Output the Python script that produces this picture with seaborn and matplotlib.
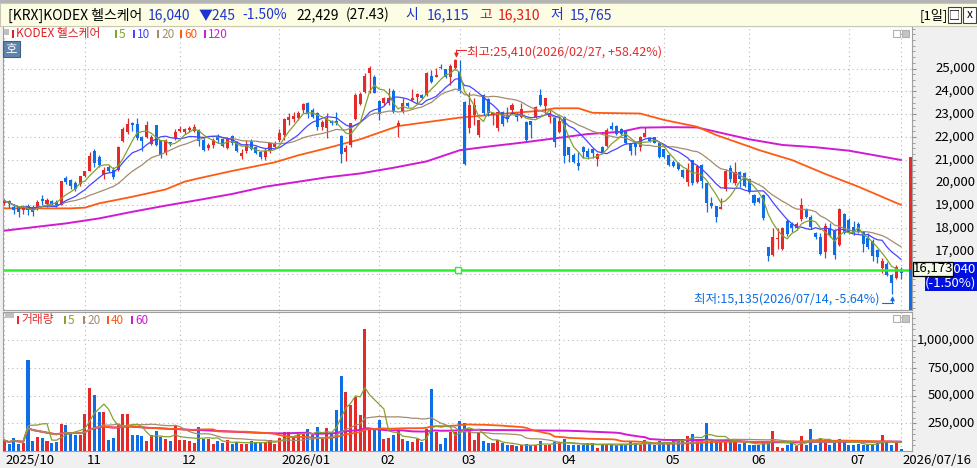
import numpy as np
import pandas as pd
import matplotlib
matplotlib.use("Agg")
import matplotlib.pyplot as plt
import matplotlib.transforms as mtransforms
from matplotlib.patches import Rectangle
import seaborn as sns

# ---------------- data ----------------
month_idx = [0, 17, 37, 58, 79, 96, 117, 139, 157, 178, 189]
month_lbl = ["2025/10", "11", "12", "2026/01", "02", "03", "04", "05", "06", "07", "2026/07/16"]

opens = [19090, 19190, 18930, 18930, 18780, 18990, 18930, 18850, 19290, 19070,
         19190, 19150, 19030, 20210, 20120, 19975, 19920, 20310, 20530, 21390,
         21140, 20350, 20670, 20560, 20560, 21830, 22200, 22600, 22550, 22000,
         21990, 21690, 22520, 21850, 21300, 21760, 21940, 22280, 22230, 22300,
         22280, 22260, 21850, 21520, 21650, 22020, 21900, 21500, 22044, 21796,
         21167, 21401, 21839, 21547, 21342, 21108, 21401, 21576, 21869, 22088,
         22746, 22775, 22820, 23184, 23506, 23184, 23038, 22424, 22380, 22717,
         22717, 22044, 21342, 21649, 22790, 23448, 23988, 24793, 24617, 23579,
         23506, 23506, 24018, 22483, 23111, 23477, 23623, 23769, 23842, 23842,
         24676, 24646, 25085, 24968, 24617, 25012, 24850, 23550, 22380, 22960,
         22090, 23840, 23650, 22960, 22380, 23110, 22960, 23180, 22970, 22860,
         22660, 22720, 22860, 23840, 23360, 22860, 22850, 22230, 22860, 21550,
         21210, 20840, 21550, 21400, 21460, 21020, 21550, 21600, 22480, 22480,
         22340, 22280, 21720, 21720, 21550, 21990, 21940, 21990, 21720, 21460,
         21210, 20920, 20880, 20550, 20040, 20990, 20040, 20770, 20000, 19090,
         18980, 18860, 19705, 20620, 19970, 20480, 20440, 20140, 19460, 19340,
         19460, 17160, 16830, 17510, 17070, 18330, 18185, 17990, 18390, 18830,
         18510, 17780, 17600, 16970, 17990, 17920, 17260, 18620, 18360, 18070,
         18185, 17850, 17560, 17450, 17040, 16240, 16430, 15960, 15800, 16115]

highs = [19290, 19250, 19040, 18990, 19000, 19040, 19000, 19220, 19440, 19330,
         19250, 19220, 20090, 20270, 20160, 20060, 20310, 20530, 21360, 21460,
         21200, 20670, 20790, 20670, 21600, 22450, 22840, 22650, 22840, 22060,
         22700, 22090, 22520, 21880, 21920, 21800, 22330, 22490, 22400, 22500,
         22580, 22330, 21940, 21720, 21950, 22130, 21940, 21990, 22088, 21830,
         21459, 21869, 21900, 21600, 21380, 21500, 21750, 21840, 22337, 22820,
         23038, 23111, 23150, 23480, 23550, 23250, 23110, 22750, 23067, 22750,
         23111, 22088, 21649, 22630, 23915, 23990, 24790, 25114, 24720, 23620,
         23770, 24135, 24090, 22746, 23700, 23550, 24091, 23915, 23900, 24850,
         24939, 25012, 25202, 25000, 25202, 25410, 25380, 23600, 23990, 23700,
         22750, 23900, 23700, 23100, 23140, 23150, 23330, 23480, 23070, 23480,
         22700, 22720, 23360, 24100, 23720, 23180, 22920, 22890, 22920, 21550,
         21280, 21360, 21610, 21500, 21500, 21280, 21610, 22380, 22670, 22520,
         22380, 22310, 21750, 21750, 22040, 22450, 22010, 22010, 21750, 21480,
         21240, 20990, 20910, 20580, 20840, 21000, 20770, 20820, 20000, 19380,
         18980, 19310, 20580, 20770, 20920, 20520, 20480, 20190, 19500, 19380,
         19500, 17190, 17990, 17990, 18040, 18390, 18290, 18290, 19310, 18870,
         18580, 17850, 17780, 18240, 18240, 17950, 18870, 18680, 18430, 18330,
         18290, 17880, 17780, 17510, 17070, 16680, 16500, 16000, 16400, 16310]

lows = [19000, 18900, 18640, 18490, 18640, 18560, 18520, 18780, 19000, 18930,
        19000, 18930, 19000, 19950, 19730, 19650, 19870, 20240, 20490, 20700,
        20680, 20160, 20460, 20160, 20490, 21800, 22120, 22250, 21850, 21400,
        21960, 21630, 21600, 21090, 21230, 21600, 21880, 22200, 22140, 22200,
        22200, 21620, 21380, 21420, 21520, 21740, 21580, 21460, 21649, 21360,
        21020, 21284, 21430, 21250, 21020, 20990, 21310, 21460, 21796, 21870,
        22527, 22673, 22750, 23040, 22820, 22820, 22310, 22310, 21942, 22530,
        22527, 20874, 20962, 21550, 22750, 23410, 23920, 23915, 23920, 22746,
        23400, 23400, 23040, 22015, 23040, 23300, 23580, 23477, 23650, 23800,
        24354, 24620, 24968, 24600, 24281, 24950, 23950, 20750, 22190, 22530,
        21990, 22960, 22900, 22530, 22250, 22500, 22670, 23040, 22720, 22820,
        21840, 21940, 22820, 23360, 22990, 22600, 21580, 22160, 20840, 20920,
        20850, 20550, 21070, 21020, 21070, 20730, 21250, 21580, 22310, 22090,
        22090, 21690, 21210, 21210, 21400, 21990, 21800, 21720, 21060, 21060,
        20730, 20700, 20550, 20190, 19850, 19900, 19990, 19750, 18730, 18870,
        18290, 18830, 19640, 20040, 19900, 19820, 19820, 19560, 19020, 19100,
        18360, 16580, 16780, 17070, 17040, 17660, 17850, 17920, 18330, 18430,
        17970, 17510, 16830, 16680, 17630, 16640, 17220, 17740, 17780, 17700,
        17780, 16970, 17070, 16580, 16460, 16020, 15900, 15135, 15770, 15765]

closes = [19200, 19040, 18810, 18710, 18930, 18810, 18710, 19150, 19175, 19220,
          19040, 19000, 20060, 20020, 19840, 19730, 20270, 20500, 21170, 20850,
          20780, 20570, 20530, 20240, 21550, 22330, 22550, 22520, 21960, 21810,
          22520, 21990, 21630, 21230, 21810, 21720, 22230, 22350, 22330, 22400,
          22460, 21840, 21420, 21650, 21880, 21880, 21600, 21940, 21722, 21401,
          21313, 21693, 21488, 21284, 21108, 21386, 21722, 21693, 22190, 22790,
          22863, 22936, 23038, 23433, 23009, 22892, 22424, 22673, 22820, 22600,
          22630, 21255, 21532, 22600, 23842, 23886, 24676, 25012, 23945, 22994,
          23696, 23725, 23111, 22629, 23506, 23360, 23696, 23872, 23696, 24792,
          24427, 24720, 25012, 24646, 25114, 25377, 24000, 20800, 23400, 23400,
          22750, 23040, 23040, 23060, 23110, 22570, 22775, 23400, 22860, 23210,
          21870, 22530, 23330, 23400, 23700, 23070, 21800, 22700, 21180, 21210,
          20920, 20730, 21360, 21110, 21310, 21250, 21310, 22300, 22350, 22130,
          22130, 21720, 21400, 21550, 21990, 22190, 21840, 21750, 21110, 21110,
          20770, 20730, 20580, 20230, 20580, 20000, 20730, 20090, 19120, 18980,
          18480, 18920, 20520, 20140, 20480, 20140, 19850, 19600, 19090, 19170,
          18430, 16780, 17600, 17540, 17990, 17750, 17990, 18190, 19020, 18510,
          18040, 17600, 16870, 18100, 17700, 16830, 18830, 17800, 17850, 17810,
          17850, 17310, 17160, 16780, 16720, 16576, 15960, 15600, 16285, 16040]

# volume in thousands of shares (last bar exact from header)
volume_k = [96, 66, 117, 66, 75, 819, 87, 126, 117, 87,
            75, 81, 247, 232, 157, 148, 142, 337, 569, 509,
            352, 352, 96, 117, 247, 337, 337, 148, 142, 136,
            87, 142, 178, 126, 111, 87, 232, 96, 96, 87,
            72, 217, 111, 111, 66, 87, 72, 96, 66, 81,
            66, 66, 87, 81, 72, 81, 96, 66, 117, 172,
            172, 126, 157, 157, 196, 142, 217, 111, 208, 157,
            367, 678, 533, 419, 488, 322, 1099, 208, 202, 277,
            111, 117, 142, 187, 111, 87, 81, 111, 81, 202,
            557, 172, 66, 117, 172, 172, 268, 256, 178, 96,
            172, 87, 72, 75, 96, 75, 51, 51, 42, 51,
            66, 51, 57, 87, 57, 51, 81, 81, 105, 51,
            51, 57, 51, 75, 75, 27, 66, 51, 66, 51,
            51, 57, 81, 75, 51, 96, 75, 51, 87, 75,
            81, 96, 111, 105, 133, 157, 111, 96, 256, 111,
            96, 96, 96, 96, 87, 66, 75, 57, 57, 57,
            75, 75, 178, 36, 30, 57, 75, 45, 133, 57,
            202, 57, 111, 96, 57, 75, 111, 96, 57, 57,
            66, 57, 57, 57, 75, 142, 81, 51, 87, 22.429]

# long moving averages need history before the window: sampled from the chart
ma60_idx = [0, 14, 17, 20, 27, 34, 38, 41, 48, 57, 62, 68, 75, 83, 89, 96, 102,
            108, 113, 116, 121, 124, 134, 139, 146, 150, 157, 159, 166, 173, 180, 189]
ma60_val = [18870, 18870, 18900, 19090, 19380, 19700, 20040, 20190, 20510, 20890,
            21200, 21510, 21900, 22480, 22650, 22850, 22960, 23070, 23150, 23260,
            23260, 23060, 23030, 22750, 22450, 22090, 21580, 21430, 20990, 20380,
            19820, 19020]
ma120_idx = [0, 6, 13, 20, 27, 34, 41, 48, 55, 62, 68, 75, 82, 89, 96, 102, 109,
             116, 123, 130, 134, 140, 146, 150, 157, 164, 171, 178, 185, 189]
ma120_val = [17890, 18040, 18210, 18430, 18720, 18990, 19240, 19500, 19820, 20040,
             20230, 20400, 20650, 20930, 21420, 21580, 21750, 21940, 22130, 22230,
             22410, 22430, 22420, 22230, 21900, 21650, 21550, 21400, 21140, 20990]

price_ticks = [17000, 18000, 19000, 20000, 21000, 22000, 23000, 24000, 25000]
price_grid = [16000] + price_ticks
vol_ticks = [250000, 500000, 750000, 1000000]
vol_tick_lbl = ["250,000", "500,000", "750,000", "1,000,000"]

user_line = 16173          # green horizontal line
user_handle = 95.6         # its drag handle
side_bar_top = 21120       # red/blue bar at the right edge

# ---------------- styling ----------------
sns.set_style("white")
plt.rcParams['font.family'] = ['Noto Sans CJK KR', 'DejaVu Sans']
plt.rcParams['axes.unicode_minus'] = False

RED = '#e52a2a'
BLUE = '#0e6ee6'
C5, C10, C20, C40, C60, C120 = '#84a22e', '#4646ff', '#a48c6c', '#ff5a14', '#ff5a14', '#d21ad2'
GRID = '#b8b8b8'
TXT_BLUE = '#1c34d2'

o = np.array(opens, float); h = np.array(highs, float)
l = np.array(lows, float); c = np.array(closes, float)
vol = np.array(volume_k, float) * 1000
idx = np.arange(len(c))
up = c >= o
cols = np.where(up, RED, BLUE)

df = pd.DataFrame({'i': idx, 'close': c, 'vol': vol})
for n in (5, 10, 20):
    df[f'ma{n}'] = df['close'].rolling(n, min_periods=1).mean()
for n in (5, 20, 40, 60):
    df[f'v{n}'] = df['vol'].rolling(n, min_periods=1).mean()

W, H = 977, 468
fig = plt.figure(figsize=(W / 100, H / 100), dpi=100)
fig.patch.set_facecolor('#f0f0f0')


def ptext(x, y, s, **kw):
    fig.text(x / W, 1 - y / H, s, **kw)


def prect(x0, y0, x1, y1, **kw):
    fig.patches.append(Rectangle((x0 / W, 1 - y1 / H), (x1 - x0) / W, (y1 - y0) / H,
                                 transform=fig.transFigure, **kw))


LX, RX = 3, 912
ax = fig.add_axes([LX / W, 1 - 310 / H, (RX - LX) / W, (310 - 26) / H])
axv = fig.add_axes([LX / W, 1 - 451 / H, (RX - LX) / W, (451 - 312) / H])
xlim = (-0.27, 191.3)

# ---------------- price pane ----------------
ax.set_facecolor('white')
for y in price_grid:
    ax.axhline(y, color=GRID, lw=0.8, ls=(0, (1, 3)), zorder=0)
for m in month_idx:
    ax.axvline(m, color=GRID, lw=0.8, ls=(0, (1, 3)), zorder=0)

ax.vlines(idx, l, h, colors=cols, lw=0.9, zorder=3)
body = np.maximum(np.abs(c - o), 45)
ax.bar(idx, body, bottom=np.minimum(o, c), width=0.64, color=cols, linewidth=0, zorder=4)

sns.lineplot(x=ma120_idx, y=ma120_val, ax=ax, color=C120, linewidth=1.4, zorder=2)
sns.lineplot(x=ma60_idx, y=ma60_val, ax=ax, color=C60, linewidth=1.3, zorder=2)
sns.lineplot(data=df, x='i', y='ma20', ax=ax, color=C20, linewidth=0.9, zorder=5)
sns.lineplot(data=df, x='i', y='ma10', ax=ax, color=C10, linewidth=0.9, zorder=5)
sns.lineplot(data=df, x='i', y='ma5', ax=ax, color=C5, linewidth=0.9, zorder=5)

ax.axhline(user_line, color='#2df02d', lw=1.8, zorder=6)
ax.plot([user_handle], [user_line], marker='s', ms=4.5, mfc='white', mec='#2df02d',
        mew=1, zorder=7)

ylo, yhi = 14412, 26868
ax.add_patch(Rectangle((190.75, user_line), 0.55, side_bar_top - user_line,
                       color=RED, lw=0, zorder=6))
ax.add_patch(Rectangle((190.75, ylo), 0.55, user_line - ylo, color=BLUE, lw=0, zorder=6))

# highest / lowest annotations
imax = int(np.argmax(h)); hmax = h[imax]
imin = int(np.argmin(l)); lmin = l[imin]
pct_hi = (hmax / c[-1] - 1) * 100
pct_lo = (lmin / c[-1] - 1) * 100
yc = hmax + 400
ax.annotate('', xy=(imax + 0.3, hmax + 60), xytext=(imax + 0.3, yc),
            arrowprops=dict(arrowstyle='-|>,head_length=0.25,head_width=0.12',
                            color=RED, lw=0.8, shrinkA=0, shrinkB=0), zorder=8)
ax.plot([imax + 0.3, imax + 2.3], [yc, yc], color=RED, lw=0.8, zorder=8)
ax.text(imax + 2.5, yc - 70, f'최고:{hmax:,.0f}(2026/02/27, {pct_hi:+.2f}%)', color=RED,
        fontsize=9, ha='left', va='center', zorder=8)
yl = lmin - 430
ax.annotate('', xy=(imin + 0.2, lmin - 110), xytext=(imin + 0.2, yl),
            arrowprops=dict(arrowstyle='-|>,head_length=0.25,head_width=0.12',
                            color=BLUE, lw=0.8, shrinkA=0, shrinkB=0), zorder=8)
ax.plot([imin - 2.1, imin + 0.2], [yl, yl], color=BLUE, lw=0.8, zorder=8)
ax.text(imin - 2.6, yl + 200, f'최저:{lmin:,.0f}(2026/07/14, {pct_lo:.2f}%)', color=BLUE,
        fontsize=9, ha='right', va='center', zorder=8)

ax.set_xlim(*xlim)
ax.set_ylim(ylo, yhi)
ax.set_xlabel(''); ax.set_ylabel('')
ax.set_xticks([])
ax.yaxis.tick_right()
ax.set_yticks(price_grid)
ax.set_yticks(np.arange(14500, 26900, 250), minor=True)
ax.tick_params(axis='y', which='both', direction='out', length=3, color='#909090',
               labelright=False, labelleft=False)
ax.tick_params(axis='y', which='minor', length=2)
for s in ax.spines.values():
    s.set_color('#a0a0a0')
for t in price_ticks:
    ax.text((975 - LX) / (RX - LX), t, f'{t:,}', transform=ax.get_yaxis_transform(),
            ha='right', va='center', fontsize=9.5, color='black')

# ---------------- volume pane ----------------
axv.set_facecolor('white')
for y in vol_ticks:
    axv.axhline(y, color=GRID, lw=0.8, ls=(0, (1, 3)), zorder=0)
for m in month_idx:
    axv.axvline(m, color=GRID, lw=0.8, ls=(0, (1, 3)), zorder=0)
axv.bar(idx, vol, width=0.64, color=cols, linewidth=0, zorder=3)
sns.lineplot(data=df, x='i', y='v60', ax=axv, color=C120, linewidth=1.4, zorder=4)
sns.lineplot(data=df, x='i', y='v40', ax=axv, color=C40, linewidth=1.3, zorder=4)
sns.lineplot(data=df, x='i', y='v20', ax=axv, color=C20, linewidth=0.9, zorder=4)
sns.lineplot(data=df, x='i', y='v5', ax=axv, color=C5, linewidth=0.9, zorder=4)
axv.set_xlim(*xlim)
axv.set_ylim(0, 1254500)
axv.set_xlabel(''); axv.set_ylabel('')
axv.yaxis.tick_right()
axv.set_yticks(vol_ticks)
axv.set_yticks(np.arange(50000, 1250000, 50000), minor=True)
axv.tick_params(axis='y', which='both', direction='out', length=3, color='#909090',
                labelright=False, labelleft=False)
axv.tick_params(axis='y', which='minor', length=2)
axv.set_xticks(month_idx)
axv.tick_params(axis='x', direction='out', length=4, color='#909090', labelbottom=False)
for s in axv.spines.values():
    s.set_color('#a0a0a0')
for t, lb in zip(vol_ticks, vol_tick_lbl):
    axv.text((975 - LX) / (RX - LX), t, lb, transform=axv.get_yaxis_transform(),
             ha='right', va='center', fontsize=9.5, color='black')
btr = mtransforms.blended_transform_factory(axv.transData, axv.transAxes)
for m, lb in zip(month_idx, month_lbl):
    axv.text(m + 0.35, -0.066, lb, transform=btr, ha='left', va='center',
             fontsize=9.5, color='black', clip_on=False)

# ---------------- header and decorations ----------------
prect(0, 0, 977, 3, facecolor='#b4b4b4', lw=0)
prect(0, 3, 977, 26, facecolor='#fdfde4', edgecolor='#c8c8b4', lw=0.8)
hy = 15
ptext(8, hy, '[KRX]KODEX 헬스케어', color='black', fontsize=10, va='center')
ptext(148, hy, '16,040', color=TXT_BLUE, fontsize=10, va='center')
ptext(199, hy, '▼245', color=TXT_BLUE, fontsize=10, va='center')
ptext(242, hy, '-1.50%', color=TXT_BLUE, fontsize=10, va='center')
ptext(296, hy, '22,429', color='black', fontsize=10, va='center')
ptext(346, hy, '(27.43)', color='black', fontsize=10, va='center')
ptext(405, hy, '시', color=TXT_BLUE, fontsize=10, va='center')
ptext(427, hy, '16,115', color=TXT_BLUE, fontsize=10, va='center')
ptext(479, hy, '고', color='#e01818', fontsize=10, va='center')
ptext(498, hy, '16,310', color='#e01818', fontsize=10, va='center')
ptext(550, hy, '저', color=TXT_BLUE, fontsize=10, va='center')
ptext(570, hy, '15,765', color=TXT_BLUE, fontsize=10, va='center')
ptext(920, hy, '[1일]', color='black', fontsize=9.5, va='center')
prect(948, 7, 961, 23, facecolor='white', edgecolor='#404040', lw=0.8)
prect(963, 7, 976, 23, facecolor='white', edgecolor='#404040', lw=0.8)
ptext(954.5, hy, '□', color='black', fontsize=8, ha='center', va='center')
ptext(969.5, hy, 'x', color='black', fontsize=8.5, ha='center', va='center')

# price legend
prect(4, 29, 9, 35, facecolor='#c0c0c0', lw=0)
leg_p = [(12, 'KODEX 헬스케어', '#e02020'), (115, '5', C5), (133, '10', C10),
         (157, '20', C20), (180, '60', C60), (204, '120', C120)]
for x0, s, col in leg_p:
    prect(x0, 30, x0 + 2, 38, facecolor=col, lw=0)
    ptext(x0 + 4, 34, s, color=col, fontsize=8.5, va='center')
prect(3, 41, 20, 57, facecolor='#5f83ad', edgecolor='#3e5f88', lw=0.8)
ptext(11.5, 49, '호', color='white', fontsize=9, ha='center', va='center')
for yy in (30, 315):
    prect(893, yy, 900, yy + 7, facecolor='white', edgecolor='#b0b0b0', lw=0.8)
    prect(902, yy, 909, yy + 7, facecolor='#c4c4c4', edgecolor='#b0b0b0', lw=0.8)

# volume legend
prect(5, 313, 14, 318, facecolor='#c0c0c0', lw=0)
leg_v = [(17, '거래량', RED), (64, '5', C5), (83, '20', C20), (107, '40', C40), (131, '60', C120)]
for x0, s, col in leg_v:
    prect(x0, 316, x0 + 2, 324, facecolor=col, lw=0)
    ptext(x0 + 4, 320, s, color=col, fontsize=8.5, va='center')

# price boxes on the right axis
prect(913, 262, 977, 276, facecolor='#0010e0', lw=0)
ptext(976, 269, f'{c[-1]:,.0f}', color='white', fontsize=9.5, ha='right', va='center')
prect(925, 276, 977, 291, facecolor='#0010e0', lw=0)
ptext(976, 283.5, f'({(c[-1] / c[-2] - 1) * 100:.2f}%)', color='white', fontsize=9.5,
      ha='right', va='center')
prect(913, 261.5, 953, 275.5, facecolor='#f4fbe6', edgecolor='black', lw=0.9)
ptext(933, 268.5, f'{user_line:,}', color='black', fontsize=9.5, ha='center', va='center')

fig.savefig('out.png', dpi=100, facecolor=fig.get_facecolor())
